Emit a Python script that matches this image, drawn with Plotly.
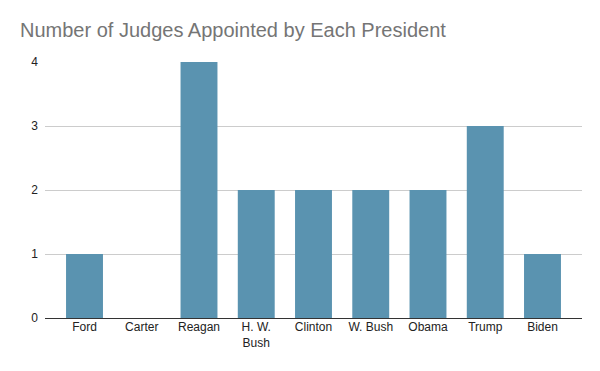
import plotly.graph_objects as go

presidents = ["Ford", "Carter", "Reagan", "H. W.<br>Bush", "Clinton", "W. Bush", "Obama", "Trump", "Biden"]
judges = [1, 0, 4, 2, 2, 2, 2, 3, 1]
y_ticks = [0, 1, 2, 3, 4]

W, H = 592, 363  # page body has an 8px margin
FONT = "Liberation Sans"

fig = go.Figure(go.Bar(x=presidents, y=judges, marker=dict(color="#5a93b0", line=dict(width=0)),
                       width=0.645))

fig.update_layout(
    width=W, height=H,
    margin=dict(l=37, r=18, t=54, b=53),
    paper_bgcolor="white", plot_bgcolor="white",
    title=dict(text="Number of Judges Appointed by Each President", x=12/W, xanchor="left",
               y=1 - 22/H, yanchor="middle",
               font=dict(family=FONT, size=20, color="#757575")),
    font=dict(family=FONT, size=12, color="#222222"),
    showlegend=False,
    xaxis=dict(range=[-0.69, 8.69], showgrid=False, ticks="",
               tickfont=dict(family=FONT, size=12, color="#222222")),
    yaxis=dict(range=[0, 4], tickvals=y_ticks, showgrid=True, gridcolor="#cccccc", gridwidth=1,
               zeroline=True, zerolinecolor="#333333", zerolinewidth=1, ticks="",
               ticklabelstandoff=6, tickfont=dict(family=FONT, size=12, color="#222222")),
)

fig.write_html("out.html")
